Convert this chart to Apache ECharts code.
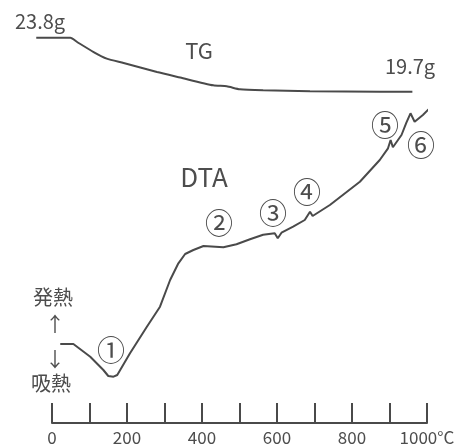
<!DOCTYPE html>
<html>
<head>
<meta charset="utf-8">
<script src="https://cdn.jsdelivr.net/npm/echarts@6/dist/echarts.min.js"></script>
<style>
  html, body { margin: 0; padding: 0; background: #fff; }
  #chart { width: 462px; height: 448px; }
</style>
</head>
<body>
<div id="chart"></div>
<script>
// Temperature axis (°C)
const tempMin = 0;
const tempMax = 1000;
const tempStep = 100;
const tempLabelStep = 200;
const tempUnit = '°C';

// TG curve: [temperature °C, sample weight g]
const tgCurve = [
  [-42, 23.8], [49, 23.8], [67, 23.48], [111, 22.72], [146, 22.22],
  [191, 21.89], [280, 21.2], [342, 20.78], [430, 20.19], [466, 20.12],
  [501, 19.89], [563, 19.81], [688, 19.74], [874, 19.70], [961, 19.7]
];

// DTA curve: [temperature °C, signal (arbitrary units, exo up)]
const dtaCurve = [
  [22, 0], [57, 0], [102, -12.7], [137, -26], [150, -32], [164, -32.7],
  [174, -31], [208, -9.3], [253, 17.3], [288, 37.3], [315, 64], [337, 80.7],
  [355, 90], [377, 94], [404, 98], [457, 96.7], [492, 99.7], [528, 104.7],
  [563, 109.3], [594, 110.7], [602, 105.7], [612, 111.3], [643, 117.3],
  [674, 124], [688, 132.3], [695, 128], [741, 139], [821, 162.3],
  [874, 184], [896, 195.7], [903, 204], [909, 196.7], [932, 209],
  [945, 221.3], [956, 230.7], [967, 222.3], [989, 229], [1025, 242.3]
];

// Reaction markers
const markers = ['①', '②', '③', '④', '⑤', '⑥'];

const ink = '#4a4a4a';
const textInk = '#4d4d4d';
const jp = '"Noto Sans CJK JP", "Noto Sans", sans-serif';

const chart = echarts.init(document.getElementById('chart'), null, { renderer: 'canvas' });

const tgStart = tgCurve[0][1];
const tgEnd = tgCurve[tgCurve.length - 1][1];

// The TG trace begins a little before 0 °C on the plot, so it gets its own
// hidden temperature axis (same px/°C) that reaches further left.
const plotLeft = 52, plotRight = 35, plotTop = 22, plotBottom = 25;
const plotWidth = 462 - plotLeft - plotRight;
const tgAxisMin = tgCurve[0][0];
const tgLeft = plotLeft + tgAxisMin * plotWidth / (tempMax - tempMin);

function txt(text, x, y, size) {
  return {
    type: 'text', x: x, y: y, silent: true,
    style: {
      text: text, fill: textInk, align: 'center', verticalAlign: 'middle',
      font: size + 'px ' + jp
    }
  };
}

const markerPos = [[111, 350], [219, 223], [273, 213], [307, 192], [385, 125], [421, 145]];

chart.setOption({
  animation: false,
  backgroundColor: '#ffffff',
  grid: [
    { left: plotLeft, right: plotRight, top: plotTop, bottom: plotBottom },
    { left: tgLeft, right: plotRight, top: plotTop, bottom: plotBottom }
  ],
  xAxis: [
    {
      type: 'value', gridIndex: 0,
      min: tempMin, max: tempMax, interval: tempStep,
      axisLine: { show: true, onZero: false, lineStyle: { color: ink, width: 2 } },
      axisTick: { show: true, inside: true, length: 20, lineStyle: { color: ink, width: 2 } },
      splitLine: { show: false },
      axisLabel: {
        show: true, margin: 6, color: textInk, fontSize: 17,
        fontFamily: jp,
        showMinLabel: true, showMaxLabel: true,
        formatter: function (v) {
          if (v % tempLabelStep !== 0) return '';
          return v === tempMax ? v + tempUnit : String(v);
        }
      }
    },
    {
      type: 'value', gridIndex: 1, min: tgAxisMin, max: tempMax, show: false,
      splitLine: { show: false }
    }
  ],
  yAxis: [
    { type: 'value', gridIndex: 0, min: -79, max: 322, show: false, splitLine: { show: false } },
    { type: 'value', gridIndex: 1, min: -5.45, max: 25, show: false, splitLine: { show: false } }
  ],
  series: [
    {
      name: 'TG', type: 'line', xAxisIndex: 1, yAxisIndex: 1, data: tgCurve,
      showSymbol: false, clip: false, smooth: 0.2,
      lineStyle: { color: ink, width: 2 }
    },
    {
      name: 'DTA', type: 'line', xAxisIndex: 0, yAxisIndex: 0, data: dtaCurve,
      showSymbol: false, clip: false, smooth: false,
      lineStyle: { color: ink, width: 2 }
    }
  ],
  graphic: [
    txt(tgStart + 'g', 40, 21, 20),
    txt('TG', 199, 51, 22),
    txt(tgEnd + 'g', 410, 66, 20),
    txt('DTA', 204, 177, 26),
    txt('発熱', 53, 297, 20),
    txt('↑', 55, 324, 20),
    txt('↓', 55, 359, 20),
    txt('吸熱', 51, 383, 20)
  ].concat(markers.map(function (m, i) {
    return txt(m, markerPos[i][0], markerPos[i][1], 28);
  }))
});
</script>
</body>
</html>
